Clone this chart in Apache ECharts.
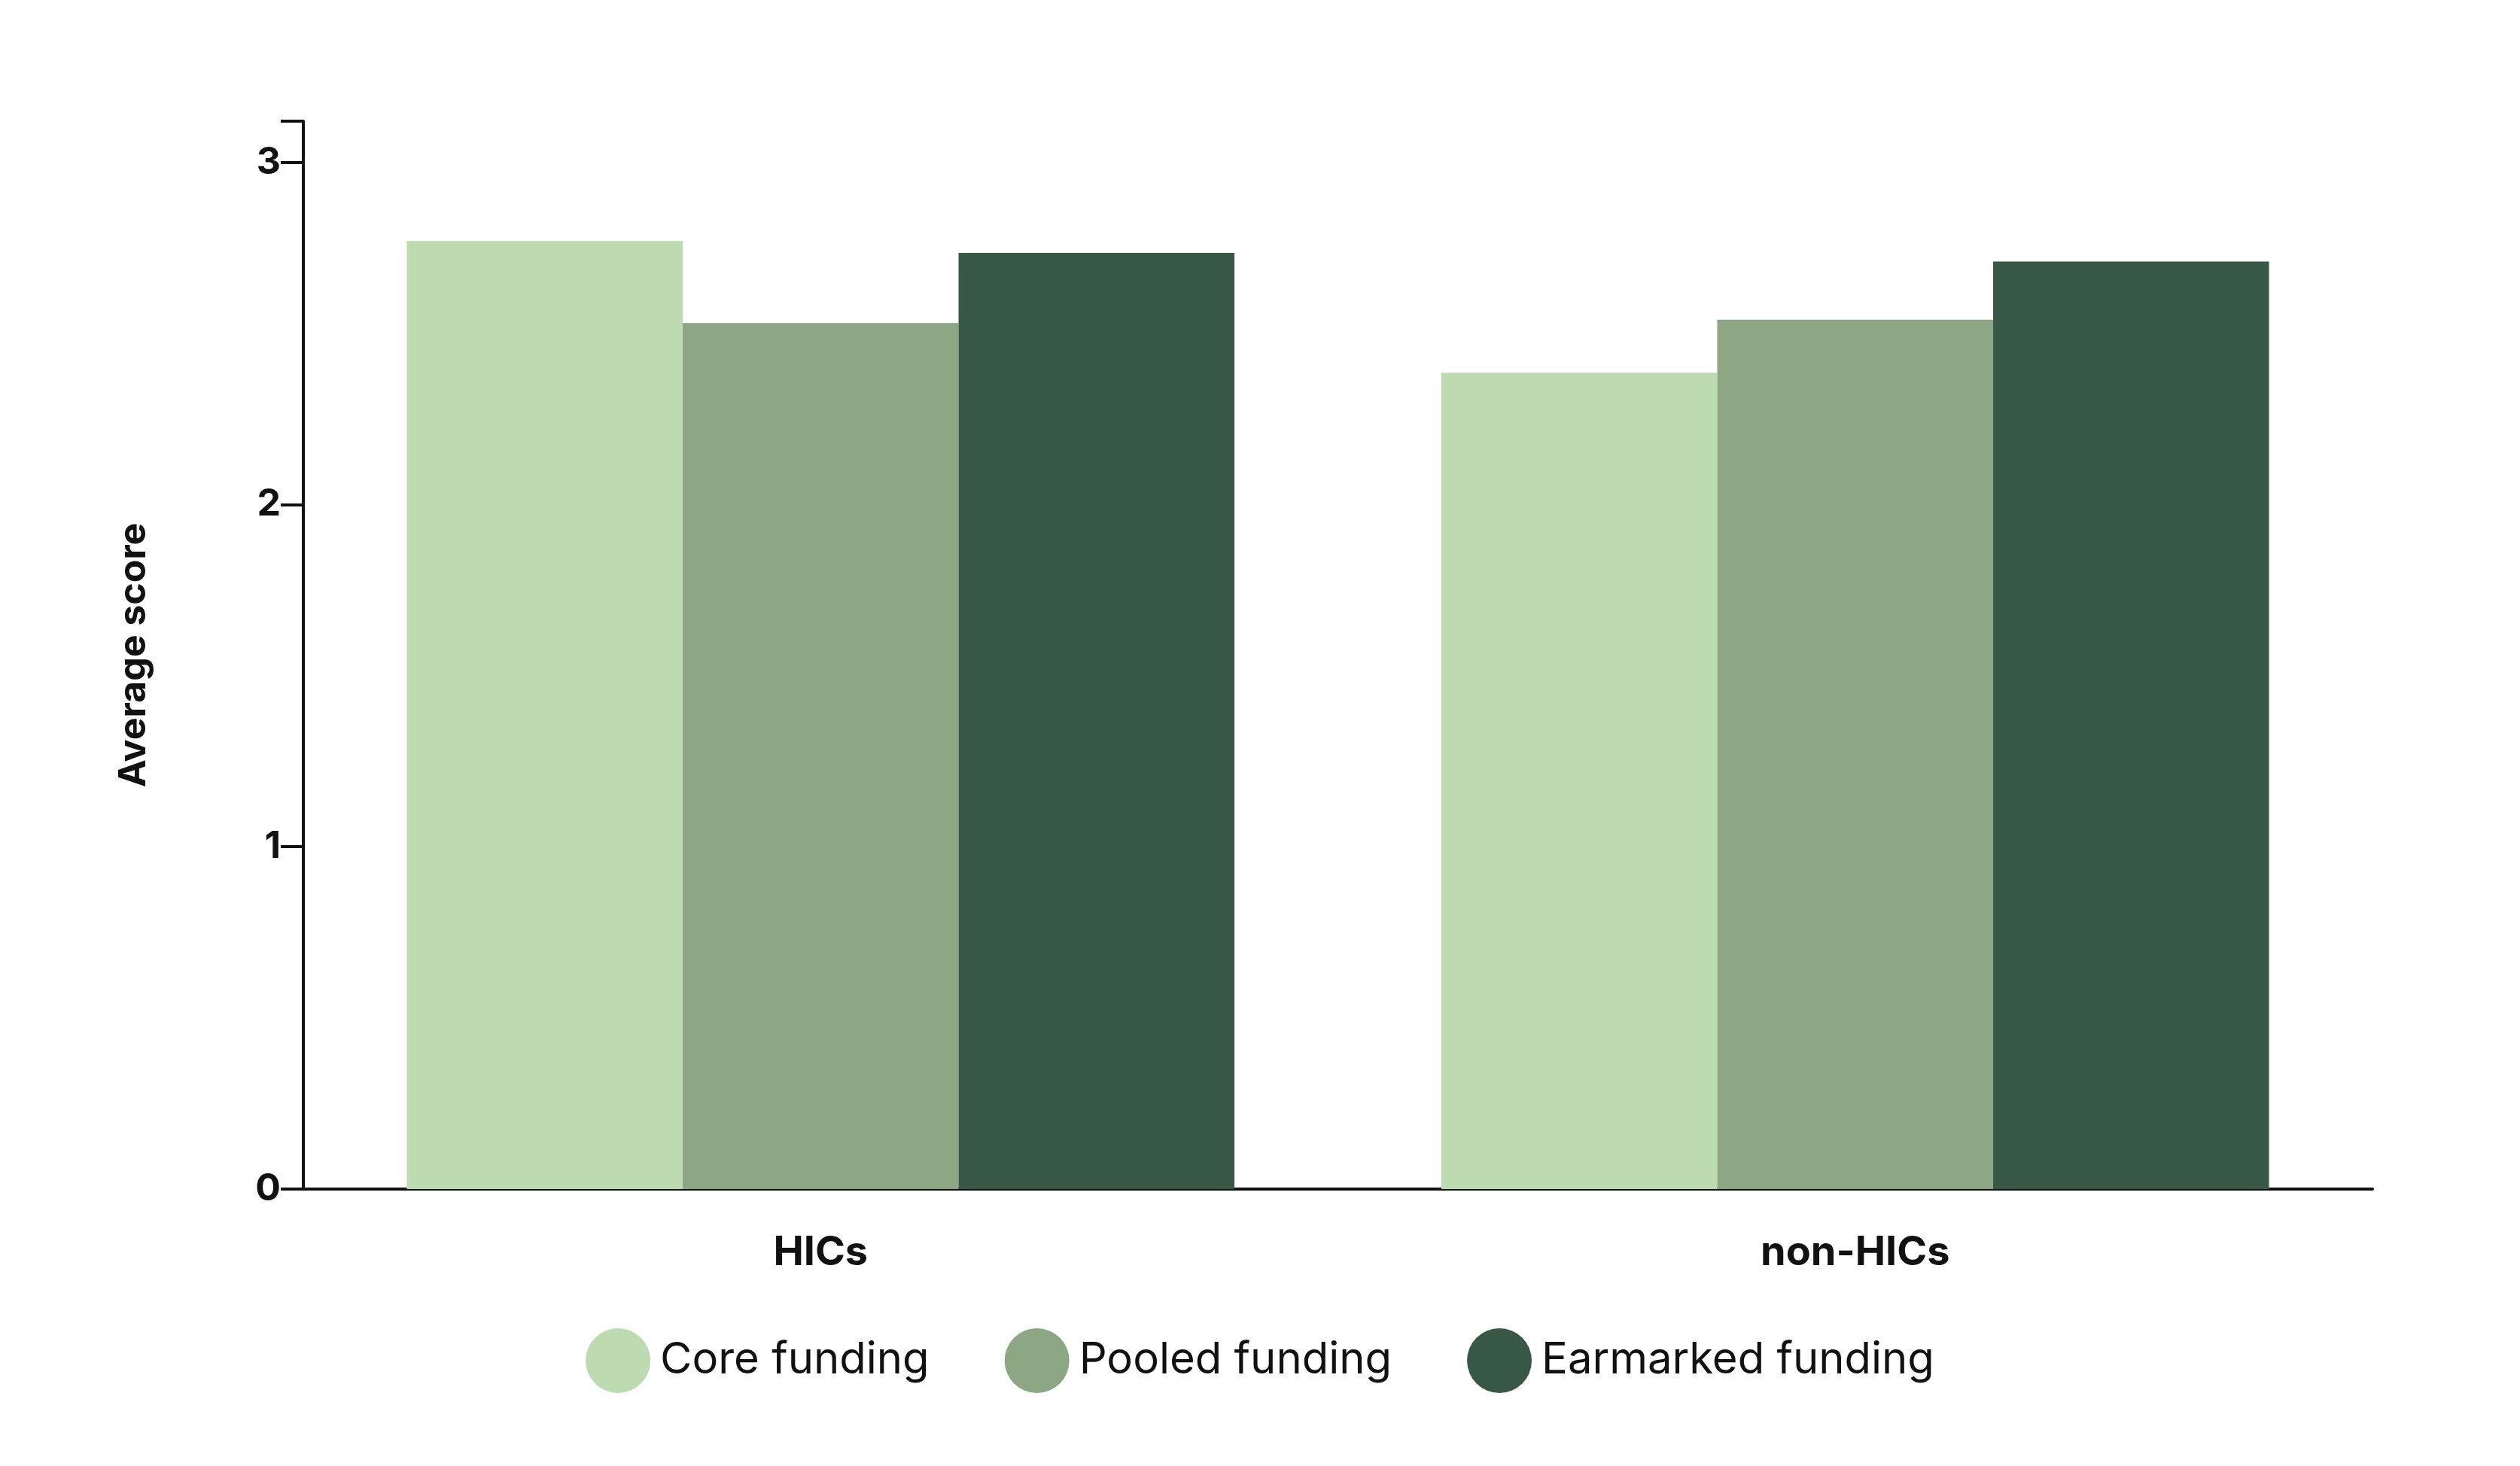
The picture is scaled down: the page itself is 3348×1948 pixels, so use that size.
<!DOCTYPE html>
<html><head><meta charset="utf-8">
<script src="https://cdn.jsdelivr.net/npm/echarts@6/dist/echarts.min.js"></script>
<style>html,body{margin:0;padding:0;background:#fff}#c{width:3348px;height:1948px}</style>
</head><body><div id="c"></div>
<script>
const categories = ['HICs', 'non-HICs'];
const seriesNames = ['Core funding', 'Pooled funding', 'Earmarked funding'];
const coreFunding = [2.77, 2.385];
const pooledFunding = [2.53, 2.54];
const earmarkedFunding = [2.735, 2.71];
const yTicks = [0, 1, 2, 3];
const colors = ['#bcdbb1', '#8da684', '#385744'];
const values = [coreFunding, pooledFunding, earmarkedFunding];

const chart = echarts.init(document.getElementById('c'));
chart.setOption({
  animation: false,
  textStyle: { fontFamily: 'Inter' },
  grid: { left: 403, right: 196, top: 161, bottom: 368, containLabel: false },
  legend: {
    bottom: 92, left: 'center', itemWidth: 86, itemHeight: 86, itemGap: 100, icon: 'circle',
    textStyle: { fontSize: 58, color: '#111', fontFamily: 'Inter', padding: [0, 0, 0, 8] },
    data: seriesNames
  },
  xAxis: {
    type: 'category', data: categories,
    axisLine: { lineStyle: { color: '#111', width: 4 } },
    axisTick: { show: false },
    axisLabel: { fontSize: 54, fontWeight: 'bold', color: '#111', margin: 58 }
  },
  yAxis: {
    type: 'value', min: 0, max: 3.12, interval: 1,
    name: 'Average score', nameLocation: 'middle', nameGap: 200, nameRotate: 90,
    nameTextStyle: { fontSize: 50, fontWeight: 'bold', color: '#111' },
    splitLine: { show: false },
    axisLine: { show: true, lineStyle: { color: '#111', width: 4 } },
    axisTick: { show: true, length: 30, lineStyle: { color: '#111', width: 4 } },
    axisLabel: { fontSize: 50, fontWeight: 'bold', color: '#111', margin: 30,
      formatter: v => yTicks.includes(v) ? String(v) : '' }
  },
  series: seriesNames.map((n, i) => ({
    name: n, type: 'bar', data: values[i], barGap: '0%', barCategoryGap: '20%',
    itemStyle: { color: colors[i] }
  }))
});
</script></body></html>
